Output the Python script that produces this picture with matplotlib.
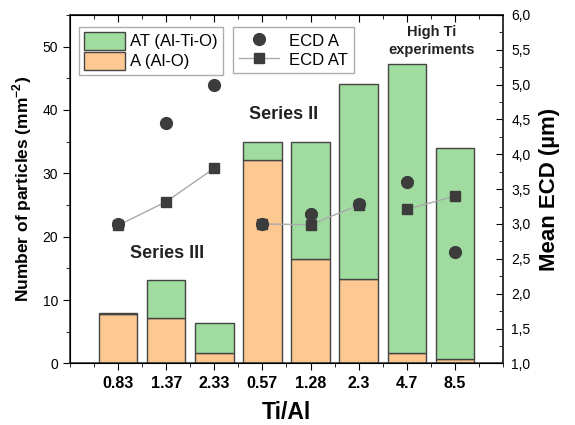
import matplotlib
matplotlib.use("Agg")
import matplotlib.pyplot as plt
import numpy as np
from matplotlib.ticker import MultipleLocator, FuncFormatter
from matplotlib.patches import Patch
from matplotlib.lines import Line2D

plt.rcParams['font.family'] = ['Liberation Sans', 'DejaVu Sans']
plt.rcParams['mathtext.fontset'] = 'custom'
plt.rcParams['mathtext.bf'] = 'Liberation Sans:bold'
plt.rcParams['mathtext.rm'] = 'Liberation Sans'

# Ti/Al ratio categories
ratios = ['0.83', '1.37', '2.33', '0.57', '1.28', '2.3', '4.7', '8.5']

# number of particles (mm^-2)
total_particles = [8.0, 13.2, 6.3, 35.0, 35.0, 44.1, 47.3, 34.0]
a_particles = [7.8, 7.2, 1.7, 32.1, 16.4, 13.3, 1.6, 0.7]
at_particles = [t - a for t, a in zip(total_particles, a_particles)]

# mean ECD (um)
ecd_a = [3.0, 4.45, 5.0, 3.0, 3.15, 3.29, 3.6, 2.6]
ecd_at = [2.98, 3.32, 3.8, 3.0, 2.99, 3.27, 3.21, 3.4]

# groups of experiments connected by the ECD AT line
groups = [[0, 1, 2], [3, 4, 5], [6, 7]]

green = '#a0dca0'
orange = '#fec892'
edge = '#444444'
marker_col = '#3c3c3c'

fig = plt.figure(figsize=(5.75, 4.25), dpi=100)
ax = fig.add_axes([0.1217, 0.145, 0.7531, 0.82])
x = np.arange(len(ratios))

ax.bar(x, a_particles, width=0.8, color=orange, edgecolor=edge, linewidth=1)
ax.bar(x, at_particles, width=0.8, bottom=a_particles, color=green,
       edgecolor=edge, linewidth=1)

ax.set_xlim(-1, 8)
ax.set_ylim(0, 55)
ax.set_xticks(x)
ax.set_xticklabels(ratios, fontsize=11.5, fontweight='bold')
ax.xaxis.set_minor_locator(MultipleLocator(0.5))
ax.yaxis.set_major_locator(MultipleLocator(10))
ax.yaxis.set_minor_locator(MultipleLocator(5))
ax.tick_params(axis='y', which='major', labelsize=10, direction='out', length=5)
ax.tick_params(axis='y', which='minor', direction='out', length=3)
ax.tick_params(axis='x', which='major', direction='out', length=5, pad=4)
ax.tick_params(axis='x', which='minor', direction='out', length=3)
ax.set_xlabel('Ti/Al', fontsize=16.5, fontweight='bold', labelpad=7)
ax.set_ylabel('Number of particles (mm$^{\\mathbf{-2}}$)', fontsize=12.5,
              fontweight='bold', labelpad=6)

# inward ticks on the top edge
top = ax.secondary_xaxis('top')
top.set_xticks(x)
top.set_xticklabels([])
top.xaxis.set_minor_locator(MultipleLocator(0.5))
top.tick_params(axis='x', which='major', direction='in', length=5)
top.tick_params(axis='x', which='minor', direction='in', length=3)

for side in list(ax.spines.values()) + list(top.spines.values()):
    side.set_linewidth(1.2)
    side.set_color('#333333')

ax.text(1.02, 17.4, 'Series III', ha='center', va='center', fontsize=13,
        fontweight='bold', color='#222222')
ax.text(3.43, 39.3, 'Series II', ha='center', va='center', fontsize=13,
        fontweight='bold', color='#222222')
ax.text(6.52, 50.9, 'High Ti\nexperiments', ha='center', va='center',
        fontsize=10.5, fontweight='bold', color='#222222', linespacing=1.3)

ax2 = ax.twinx()
ax2.set_ylim(1, 6)
for g in groups:
    ax2.plot([x[i] for i in g], [ecd_at[i] for i in g], color='#aaaaaa',
             linewidth=1, zorder=2)
ax2.plot(x, ecd_at, 's', color=marker_col, markersize=7.5, zorder=3)
ax2.plot(x, ecd_a, 'o', color=marker_col, markersize=8.5, zorder=4)
ax2.yaxis.set_major_locator(MultipleLocator(0.5))
ax2.yaxis.set_minor_locator(MultipleLocator(0.25))
ax2.yaxis.set_major_formatter(FuncFormatter(lambda v, p: f'{v:.1f}'.replace('.', ',')))
ax2.tick_params(axis='y', which='major', labelsize=10, direction='in', length=5, pad=6)
ax2.tick_params(axis='y', which='minor', direction='in', length=3)
ax2.set_ylabel('Mean ECD (µm)', fontsize=16, fontweight='bold', labelpad=6)
ax2.spines['right'].set_linewidth(1.2)
ax2.spines['right'].set_color('#333333')

h1 = [Patch(facecolor=green, edgecolor=edge, label='AT (Al-Ti-O)'),
      Patch(facecolor=orange, edgecolor=edge, label='A (Al-O)')]
leg1 = ax2.legend(handles=h1, loc='upper left', bbox_to_anchor=(0.02, 0.966),
                  fontsize=12, frameon=True, fancybox=False, edgecolor='#999999',
                  handlelength=2.5, handleheight=1.3, borderpad=0.3,
                  labelspacing=0.1, handletextpad=0.3, borderaxespad=0)
ax2.add_artist(leg1)
h2 = [Line2D([], [], marker='o', color=marker_col, linestyle='none',
             markersize=8.5, label='ECD A'),
      Line2D([], [], marker='s', color='#aaaaaa', markerfacecolor=marker_col,
             markeredgecolor=marker_col, markersize=7.5, linestyle='-',
             linewidth=1, label='ECD AT')]
leg2 = ax2.legend(handles=h2, loc='upper left', bbox_to_anchor=(0.377, 0.966),
                  fontsize=12, frameon=True, fancybox=False, edgecolor='#999999',
                  handlelength=2.4, handleheight=1.1, borderpad=0.35,
                  labelspacing=0.1, handletextpad=0.6, borderaxespad=0)
leg1.get_frame().set_linewidth(1)
leg2.get_frame().set_linewidth(1)

fig.savefig('out.png', dpi=100)
